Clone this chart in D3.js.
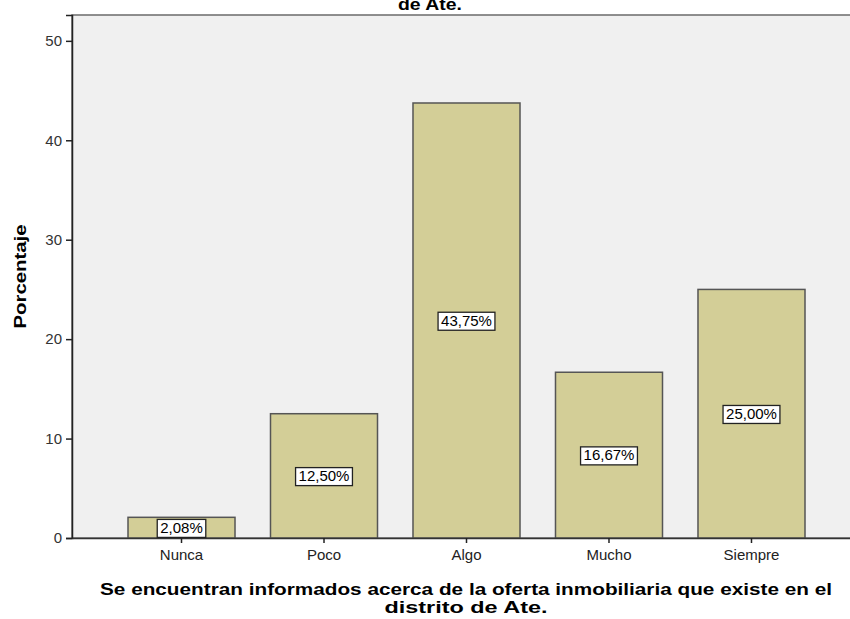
<!DOCTYPE html>
<html>
<head>
<meta charset="utf-8">
<script src="https://cdn.jsdelivr.net/npm/d3@7"></script>
<style>
  body { margin: 0; background: #fff; }
  text { font-family: "Liberation Sans", Arial, sans-serif; }
</style>
</head>
<body>
<svg></svg>
<script>
let categories = ["Nunca", "Poco", "Algo", "Mucho", "Siempre"]
let percentages = [2.08, 12.50, 43.75, 16.67, 25.00]
let yTicks = [0, 10, 20, 30, 40, 50]

var svg = d3.select("svg")
    .attr("width", 850)
    .attr("height", 619)

var margin = {top: 15, left: 72}
var plotWidth = 789
var plotHeight = 523

var g = svg.append("g")
    .attr("transform", `translate(${margin.left}, ${margin.top})`)

let scX = d3.scaleBand()
    .domain(categories)
    .range([0, plotWidth])
    .paddingInner(0.249)
    .paddingOuter(0.393)

let scY = d3.scaleLinear()
    .domain([0, 52.6])
    .range([plotHeight, 0])

// plot background + frame
g.append("rect")
    .attr("width", plotWidth)
    .attr("height", plotHeight)
    .attr("fill", "#f0f0f0")
    .attr("stroke", "#6b6b6b")
    .attr("stroke-width", 1.5)

// bars
g.selectAll(".bar")
    .data(percentages).enter().append("rect")
    .attr("class", "bar")
    .attr("x", (d, i) => scX(categories[i]))
    .attr("y", d => scY(d))
    .attr("width", scX.bandwidth())
    .attr("height", d => plotHeight - scY(d))
    .attr("fill", "#d3ce97")
    .attr("stroke", "#555")
    .attr("stroke-width", 1.5)

// axes
let yAxis = d3.axisLeft(scY).tickValues(yTicks).tickSize(6).tickPadding(4)
let yG = g.append("g").call(yAxis)
yG.select(".domain").attr("stroke", "#222").attr("stroke-width", 1.5)
yG.selectAll(".tick line").attr("stroke", "#222").attr("stroke-width", 1.5)
yG.selectAll("text").attr("font-size", 15).attr("fill", "#333")
    .attr("font-family", "Liberation Sans, Arial, sans-serif")

let xAxis = d3.axisBottom(scX).tickSize(5).tickPadding(6).tickSizeOuter(0)
let xG = g.append("g")
    .attr("transform", `translate(0, ${plotHeight})`)
    .call(xAxis)
xG.select(".domain").attr("stroke", "#333").attr("stroke-width", 1.5)
xG.selectAll(".tick line").attr("stroke", "#222").attr("stroke-width", 1.5)
xG.selectAll("text").attr("font-size", 15).attr("fill", "#222")
    .attr("font-family", "Liberation Sans, Arial, sans-serif")

// value labels
let fmt = d => d.toFixed(2).replace(".", ",") + "%"
let labels = g.selectAll(".lab")
    .data(percentages).enter().append("g")
    .attr("class", "lab")
    .attr("transform", (d, i) =>
        `translate(${scX(categories[i]) + scX.bandwidth() / 2}, ${(scY(d) + plotHeight) / 2})`)

labels.append("text")
    .attr("text-anchor", "middle")
    .attr("dy", "0.35em")
    .attr("font-size", 15)
    .attr("fill", "#000")
    .text(fmt)
    .each(function() {
        let b = this.getBBox()
        d3.select(this.parentNode).insert("rect", "text")
            .attr("x", b.x - 3)
            .attr("y", b.y + 0.5)
            .attr("width", b.width + 6)
            .attr("height", b.height + 1)
            .attr("fill", "#fff")
            .attr("stroke", "#222")
            .attr("stroke-width", 1.3)
    })

// titles (glyphs stretched to the reference's text widths)
svg.append("text")
    .attr("x", 430).attr("y", 10)
    .attr("text-anchor", "middle")
    .attr("font-size", 17).attr("font-weight", "bold")
    .attr("textLength", 64).attr("lengthAdjust", "spacingAndGlyphs")
    .text("de Ate.")

svg.append("text")
    .attr("transform", `translate(26, ${margin.top + plotHeight / 2}) rotate(-90)`)
    .attr("text-anchor", "middle")
    .attr("font-size", 16).attr("font-weight", "bold")
    .attr("textLength", 104).attr("lengthAdjust", "spacingAndGlyphs")
    .text("Porcentaje")

let xTitle = svg.append("g")
    .attr("font-size", 16.5).attr("font-weight", "bold")
xTitle.append("text").attr("x", 466).attr("y", 595)
    .attr("text-anchor", "middle")
    .attr("textLength", 732).attr("lengthAdjust", "spacingAndGlyphs")
    .text("Se encuentran informados acerca de la oferta inmobiliaria que existe en el")
xTitle.append("text").attr("x", 466).attr("y", 613)
    .attr("text-anchor", "middle")
    .attr("textLength", 163).attr("lengthAdjust", "spacingAndGlyphs")
    .text("distrito de Ate.")
</script>
</body>
</html>
